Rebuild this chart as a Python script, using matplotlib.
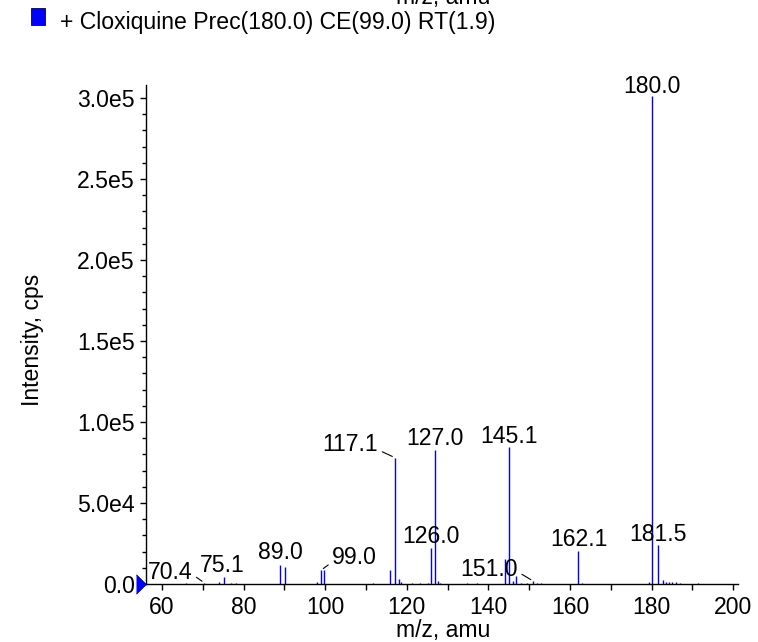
import matplotlib
matplotlib.use("Agg")
import matplotlib.pyplot as plt
import matplotlib.transforms as mtrans
from matplotlib.patches import Rectangle
from matplotlib.ticker import FixedLocator, FixedFormatter, MultipleLocator

plt.rcParams['font.family'] = ['Liberation Sans', 'DejaVu Sans']

# ---------------- data ----------------
mz = [66.0, 70.4, 74.0, 75.1, 76.9, 78.1, 89.0, 90.1, 97.9, 99.0, 99.7,
      111.8, 116.0, 117.1, 118.2, 118.6, 121.2, 123.2, 125.1, 126.0, 127.0,
      127.6, 128.2, 134.7, 137.2, 144.2, 145.1, 146.0, 146.7, 148.0, 149.5,
      151.0, 152.0, 153.0, 162.1, 163.0, 179.3, 180.0, 181.5, 182.9, 183.5,
      184.2, 185.0, 186.0, 187.0, 191.5]
intensity = [900, 700, 1000, 4300, 800, 700, 11800, 10800, 1500, 8500, 8400,
             500, 8600, 78000, 3200, 1500, 500, 500, 700, 22000, 82500,
             1800, 900, 600, 500, 15500, 84500, 2000, 5000, 800, 800,
             1800, 800, 500, 20500, 800, 1200, 301000, 24000, 2200, 1500,
             1500, 1200, 1000, 600, 500]

label_mz = [180.0, 117.1, 127.0, 145.1, 126.0, 162.1, 181.5, 89.0, 75.1, 99.0, 70.4, 151.0]
label_text = ["180.0", "117.1", "127.0", "145.1", "126.0", "162.1", "181.5",
              "89.0", "75.1", "99.0", "70.4", "151.0"]

x_ticks = [60, 80, 100, 120, 140, 160, 180, 200]
y_ticks = [0, 50000, 100000, 150000, 200000, 250000, 300000]
y_tick_labels = ["0.0", "5.0e4", "1.0e5", "1.5e5", "2.0e5", "2.5e5", "3.0e5"]

legend_text = "+ Cloxiquine Prec(180.0) CE(99.0) RT(1.9)"
x_label = "m/z, amu"
y_label = "Intensity, cps"

# ---------------- layout / style ----------------
W, H = 758, 642
FS = 16.6
fig = plt.figure(figsize=(W / 100, H / 100), dpi=100)
ax = fig.add_axes([146 / W, 1 - 584 / H, (738 - 146) / W, (584 - 85) / H])

ax.vlines(mz, 0, intensity, colors='#0000ff', linewidth=1.0)

ax.set_xlim(56.1, 201.2)
ax.set_ylim(0, 308000)

for s in ['top', 'right']:
    ax.spines[s].set_visible(False)
for s in ['left', 'bottom']:
    ax.spines[s].set_linewidth(1.0)

ax.xaxis.set_major_locator(FixedLocator(x_ticks))
ax.xaxis.set_minor_locator(MultipleLocator(10))
ax.yaxis.set_major_locator(FixedLocator(y_ticks))
ax.yaxis.set_major_formatter(FixedFormatter(y_tick_labels))
ax.yaxis.set_minor_locator(MultipleLocator(10000))
ax.tick_params(axis='x', which='both', length=4.5, width=1.0, direction='out',
               labelsize=FS, pad=4.5)
ax.tick_params(axis='y', which='major', length=4.5, width=1.0, direction='out',
               labelsize=FS, pad=3.5)
ax.tick_params(axis='y', which='minor', length=3, width=1.0, direction='out')

ax.set_xlabel(x_label, fontsize=FS, va='center')
ax.xaxis.set_label_coords(0.502, (584 - 631) / 499)
ax.set_ylabel(y_label, fontsize=FS, va='center')
ax.yaxis.set_label_coords((33 - 146) / 592, 0.49)

# blue marker at the origin of the axis (left of the spine)
mk, = ax.plot([0], [0], marker=[(0, -1), (1, 0), (0, 1)], markersize=14,
              markerfacecolor='#0000ff', markeredgecolor='#000080',
              markeredgewidth=0.6, clip_on=False, linestyle='none', zorder=5)
mk.set_transform(ax.get_yaxis_transform() +
                 mtrans.ScaledTranslation(-10 / 100, 0, fig.dpi_scale_trans))

# peak labels (offsets in points, alignment, leader anchor)
offsets = {
    "180.0": ((0, 2.2), 'center', None),
    "117.1": ((-12, 5), 'right', (1, 0.25)),
    "127.0": ((0, 3.6), 'center', None),
    "145.1": ((0, 3), 'center', None),
    "126.0": ((0, 3.6), 'center', None),
    "162.1": ((0, 3.6), 'center', None),
    "181.5": ((0, 3), 'center', None),
    "89.0": ((0, 4.5), 'center', None),
    "75.1": ((-0.8, 3.6), 'center', None),
    "99.0": ((8, 4.5), 'left', (0, 0.3)),
    "70.4": ((-8.5, 3), 'right', (1, 0.4)),
    "151.0": ((-11, 3.6), 'right', (1, 0.4)),
}
for m, t in zip(label_mz, label_text):
    idx = min(range(len(mz)), key=lambda i: abs(mz[i] - m))
    (dx, dy), ha, rel = offsets[t]
    kw = {}
    if rel is not None:
        kw['arrowprops'] = dict(arrowstyle='-', color='black', lw=0.8,
                                shrinkA=1, shrinkB=2, relpos=rel)
    ax.annotate(t, xy=(mz[idx], intensity[idx]), xytext=(dx, dy),
                textcoords='offset points', ha=ha, va='baseline',
                fontsize=FS, **kw)

# legend-like header
fig.patches.append(Rectangle((31 / W, 1 - 25 / H), 14 / W, 17 / H,
                             transform=fig.transFigure, facecolor='#0000ff',
                             edgecolor='#000060', linewidth=0.6))
fig.text(60 / W, 1 - 29 / H, legend_text, fontsize=FS, ha='left', va='baseline')
# axis title clipped at the very top edge, as in the reference
fig.text(443 / W, 1 - 4 / H, x_label, fontsize=FS, ha='center', va='baseline')

fig.savefig("out.png", dpi=100)
